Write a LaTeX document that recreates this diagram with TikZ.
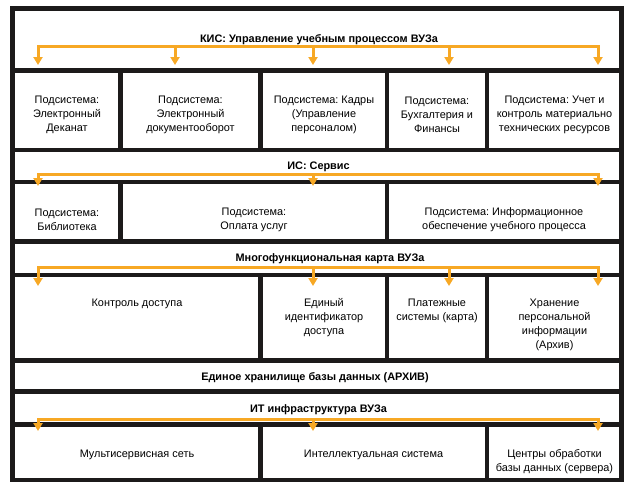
\documentclass[tikz,border=0pt]{standalone}
\usepackage{fontspec}
\setmainfont{Liberation Sans}
\usetikzlibrary{arrows.meta}
\definecolor{busor}{RGB}{247,168,36}
\definecolor{framec}{RGB}{28,26,26}
\newcommand\cellnode[5]{\node[cellb, minimum width={#4-#2}, minimum height={#5-#3}] (#1) at ({(#2+#4)/2},{(#3+#5)/2}) {};}
\frenchspacing
\begin{document}
\begin{tikzpicture}[x=1pt,y=-1pt,
  cellb/.style={draw=framec, line width=4.5pt, inner sep=0pt, outer sep=0pt},
  txt/.style={align=center, inner sep=0pt, font=\fontsize{10.9}{14}\selectfont},
  ttl/.style={inner sep=0pt, font=\fontsize{10.9}{14}\selectfont\bfseries},
  bus/.style={draw=busor, line width=3pt, line join=miter},
  arr/.style={-{Triangle[width=9pt,length=8pt]}},
  arrb/.style={{Triangle[width=9pt,length=8pt]}-{Triangle[width=9pt,length=8pt]}}
]
\useasboundingbox (0,0) rectangle (624,482);
\fill[white] (0,0) rectangle (624,482);
% headers
\cellnode{hk}{12.5}{8.5}{621.5}{70.5}
\cellnode{hi}{12.5}{150}{621.5}{182}
\cellnode{hm}{12.5}{241.5}{621.5}{275}
\cellnode{ha}{12.5}{360.5}{621.5}{391.5}
\cellnode{ht}{12.5}{391.5}{621.5}{424.5}
% row 1
\cellnode{k1}{12.5}{70.5}{120.5}{150}
\cellnode{k2}{120.5}{70.5}{260.5}{150}
\cellnode{k3}{260.5}{70.5}{387}{150}
\cellnode{k4}{387}{70.5}{487}{150}
\cellnode{k5}{487}{70.5}{621.5}{150}
% row 2
\cellnode{s1}{12.5}{182}{120.5}{241.5}
\cellnode{s2}{120.5}{182}{387}{241.5}
\cellnode{s3}{387}{182}{621.5}{241.5}
% row 3
\cellnode{m1}{12.5}{275}{260.5}{360.5}
\cellnode{m2}{260.5}{275}{387}{360.5}
\cellnode{m3}{387}{275}{487}{360.5}
\cellnode{m4}{487}{275}{621.5}{360.5}
% row 4
\cellnode{i1}{12.5}{424.5}{260.5}{480}
\cellnode{i2}{260.5}{424.5}{487}{480}
\cellnode{i3}{487}{424.5}{621.5}{480}

% titles
\node[ttl] (tk) at (319,40) {КИС: Управление учебным процессом ВУЗа};
\node[ttl] (ti) at (318.5,167) {ИС: Сервис};
\node[ttl] (tm) at (330,259) {Многофункциональная карта ВУЗа};
\node[ttl] (ta) at (315,378) {Единое хранилище базы данных (АРХИВ)};
\node[ttl] (tt) at (318.5,410) {ИТ инфраструктура ВУЗа};

% bus KIS
\foreach \x/\n in {38/1,175/2,313/3,449/4,598/5}{
  \coordinate (kt\n) at (\x,46); \coordinate (ka\n) at (\x,65);}
\draw[bus,arrb] (ka1) -- (kt1) -- (kt5) -- (ka5);
\foreach \n in {2,3,4}{\draw[bus,arr] (kt\n) -- (ka\n);}
% bus IS
\foreach \x/\n in {38/1,313/2,598/3}{
  \coordinate (st\n) at (\x,174); \coordinate (sa\n) at (\x,186);}
\draw[bus,arrb] (sa1) -- (st1) -- (st3) -- (sa3);
\draw[bus,arr] (st2) -- (sa2);
% bus MFK
\foreach \x/\n in {38/1,313/2,449/3,598/4}{
  \coordinate (mt\n) at (\x,267); \coordinate (ma\n) at (\x,286);}
\draw[bus,arrb] (ma1) -- (mt1) -- (mt4) -- (ma4);
\foreach \n in {2,3}{\draw[bus,arr] (mt\n) -- (ma\n);}
% bus IT
\foreach \x/\n in {38/1,313/2,598/3}{
  \coordinate (it\n) at (\x,419.5); \coordinate (ia\n) at (\x,431);}
\draw[bus,arrb] (ia1) -- (it1) -- (it3) -- (ia3);
\draw[bus,arr] (it2) -- (ia2);

% texts row 1
\node[txt] (x11) at (67,115) {Подсистема:\\Электронный\\Деканат};
\node[txt] (x12) at (190.5,115) {Подсистема:\\Электронный\\документооборот};
\node[txt] (x13) at (324,115) {Подсистема: Кадры\\(Управление\\персоналом)};
\node[txt] (x14) at (437,115) {Подсистема:\\Бухгалтерия и\\Финансы};
\node[txt] (x15) at (554.5,115) {Подсистема: Учет и\\контроль материально\\технических ресурсов};
% row 2
\node[txt] (x21) at (67,220) {Подсистема:\\Библиотека};
\node[txt] (x22) at (254,220) {Подсистема:\\Оплата услуг};
\node[txt] (x23) at (504,220) {Подсистема: Информационное\\обеспечение учебного процесса};
% row 3
\node[txt] (x31) at (137,304) {Контроль доступа};
\node[txt] (x32) at (324,318) {Единый\\идентификатор\\доступа};
\node[txt] (x33) at (437,311) {Платежные\\системы (карта)};
\node[txt] (x34) at (554.5,325) {Хранение\\персональной\\информации\\(Архив)};
% row 4
\node[txt] (x41) at (137,455) {Мультисервисная сеть};
\node[txt] (x42) at (373.5,455) {Интеллектуальная система};
\node[txt] (x43) at (554.5,462) {Центры обработки\\базы данных (сервера)};
\end{tikzpicture}
\end{document}
